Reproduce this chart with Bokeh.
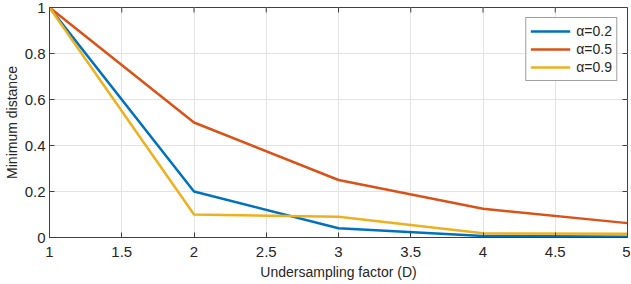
import math
from bokeh.plotting import figure
from bokeh.models import Range1d, FixedTicker, CustomJSTickFormatter, Legend, LegendItem
from bokeh.embed import file_html
from bokeh.resources import INLINE

D = [1, 2, 3, 4, 5]
alpha02 = [1.0, 0.20, 0.040, 0.007, 0.003]
alpha05 = [1.0, 0.50, 0.250, 0.125, 0.0625]
alpha09 = [1.0, 0.10, 0.090, 0.018, 0.016]
labels = ["α=0.2", "α=0.5", "α=0.9"]
colors = ["#0072BD", "#D95319", "#EDB120"]
xticks = [1, 1.5, 2, 2.5, 3, 3.5, 4, 4.5, 5]
yticks = [0, 0.2, 0.4, 0.6, 0.8, 1]

FONT = "Liberation Sans"
AX = "#404040"
TXT = "#262626"

p = figure(width=630, height=282, output_backend="svg", toolbar_location=None,
           x_range=Range1d(xticks[0], xticks[-1]), y_range=Range1d(yticks[0], yticks[-1]),
           min_border_left=0, min_border_right=3, min_border_top=7, min_border_bottom=2)

renderers = []
for ys, c in zip([alpha02, alpha05, alpha09], colors):
    r = p.line(D, ys, line_color=c, line_width=2.5)
    renderers.append(r)

# inward ticks on the top and right edges of the box
p.ray(x=xticks, y=[yticks[-1]] * len(xticks), length=5, length_units="screen",
      angle=-math.pi / 2, line_color=AX, line_width=1)
p.ray(x=[xticks[-1]] * len(yticks), y=yticks, length=5, length_units="screen",
      angle=math.pi, line_color=AX, line_width=1)

fmt = CustomJSTickFormatter(code="return String(tick)")
p.xaxis.ticker = FixedTicker(ticks=xticks)
p.xaxis.formatter = fmt
p.xaxis.axis_label = "Undersampling factor (D)"
p.yaxis.ticker = FixedTicker(ticks=yticks)
p.yaxis.formatter = fmt
p.yaxis.axis_label = "Minimum distance"

for ax in p.xaxis + p.yaxis:
    ax.major_tick_in = 5
    ax.major_tick_out = 0
    ax.minor_tick_line_color = None
    ax.axis_line_color = AX
    ax.major_tick_line_color = AX
    ax.major_label_text_font = FONT
    ax.major_label_text_font_size = "15px"
    ax.major_label_text_color = TXT
    ax.axis_label_text_font = FONT
    ax.axis_label_text_font_size = "14px"
    ax.axis_label_text_font_style = "normal"
    ax.axis_label_text_color = TXT
p.xaxis.major_label_standoff = 9
p.xaxis.axis_label_standoff = 4
p.yaxis.major_label_standoff = 4
p.yaxis.axis_label_standoff = 2

p.xgrid.ticker = FixedTicker(ticks=xticks)
p.ygrid.ticker = FixedTicker(ticks=yticks)
p.xgrid.grid_line_color = "#e3e3e3"
p.ygrid.grid_line_color = "#e3e3e3"
p.outline_line_color = AX
p.outline_line_alpha = 1

legend = Legend(items=[LegendItem(label=l, renderers=[r]) for l, r in zip(labels, renderers)],
                location="top_right")
legend.label_text_font = FONT
legend.label_text_font_size = "14px"
legend.label_text_color = TXT
legend.border_line_color = AX
legend.border_line_width = 1
legend.background_fill_alpha = 1
legend.glyph_width = 40
legend.glyph_height = 18
legend.label_height = 18
legend.label_standoff = 6
legend.spacing = 0
legend.padding = 4
legend.margin = 10
p.add_layout(legend)

open("out.html", "w").write(file_html(p, INLINE))
